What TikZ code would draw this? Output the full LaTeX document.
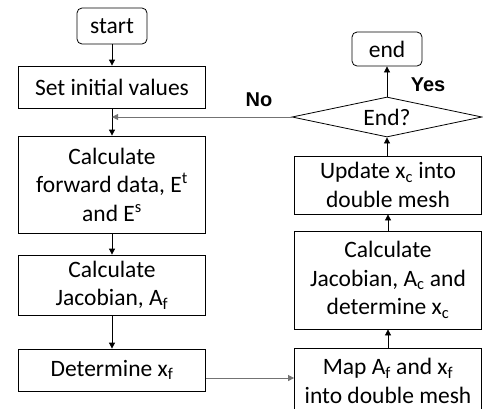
\documentclass[tikz,border=0pt]{standalone}
\usepackage{fontspec}
\setmainfont{Carlito}
\newfontfamily\answerfont{Liberation Sans}
\usetikzlibrary{shapes.geometric,arrows.meta}

\tikzset{
    process/.style = {draw, line width = 0.8bp, align = center, inner sep = 0pt,
        minimum width = 187bp, font = \fontsize{23.5bp}{28.5bp}\selectfont},
    terminal/.style = {process, rounded corners = 5bp, minimum width = 70bp},
    decision/.style = {draw, line width = 0.8bp, diamond, aspect = 4.75, inner sep = 0pt,
        minimum width = 190bp, minimum height = 40bp, font = \fontsize{23.5bp}{28.5bp}\selectfont},
    flow/.style = {line width = 0.8bp, -{Triangle[length = 6bp, width = 6bp]}},
    back/.style = {flow, draw = black!55},
    answer/.style = {font = \answerfont\bfseries\fontsize{20bp}{24bp}\selectfont}
}

\begin{document}
\begin{tikzpicture}[x = 1bp, y = -1bp]
\useasboundingbox (0,0) rectangle (483,408);

% left column
\node[terminal, minimum height = 36bp] (start) at (112,26) {start};
\node[process, minimum height = 42bp] (init) at (112,87) {Set initial values};
\node[process, minimum height = 97bp] (fwd) at (112,184.5)
    {Calculate\\forward data, E\textsuperscript{t}\\and E\textsuperscript{s}};
\node[process, minimum height = 60bp] (jacf) at (112,285) {Calculate\\Jacobian, A\textsubscript{f}};
\node[process, minimum height = 42bp] (detf) at (112,370) {Determine x\textsubscript{f}};

% right column
\node[process, minimum height = 66bp] (map) at (388,381)
    {Map A\textsubscript{f} and x\textsubscript{f}\\into double mesh};
\node[process, minimum height = 98bp] (jacc) at (388,280)
    {Calculate\\Jacobian, A\textsubscript{c} and\\determine x\textsubscript{c}};
\node[process, minimum height = 58bp] (upd) at (388,185)
    {Update x\textsubscript{c} into\\double mesh};
\node[decision] (stop) at (387,117) {End?};
\node[terminal, minimum height = 34bp] (end) at (387,49) {end};

\coordinate (join) at (112,117);

\draw[flow] (start) -- (init);
\draw[flow] (init) -- (fwd);
\draw[flow] (fwd) -- (jacf);
\draw[flow] (jacf) -- (detf);
\draw[back] ([yshift = -8bp]detf.east) -- ([yshift = -8bp]detf.east -| map.west);
\draw[flow] (map) -- (jacc);
\draw[flow] (jacc) -- (upd);
\draw[flow] (upd.north -| stop) -- (stop);
\draw[flow] (stop) -- (end);
\draw[back] (stop.west) -- (join);

\node[answer] (yes) at (428,85) {Yes};
\node[answer] (no) at (259,100) {No};
\end{tikzpicture}
\end{document}
